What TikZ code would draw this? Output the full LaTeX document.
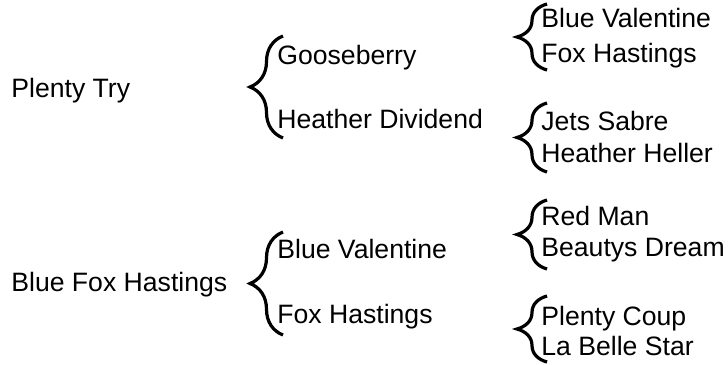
\documentclass[tikz,border=0pt]{standalone}
\usepackage{fontspec}
\setmainfont{Liberation Sans}
\usetikzlibrary{decorations.pathreplacing}
\tikzset{
  horse/.style={anchor=base west, inner sep=0pt, font=\fontsize{13.3}{15}\selectfont},
  pbrace/.style={draw, line width=1.6pt, decorate, decoration={brace, amplitude=#1}},
}
\begin{document}
\begin{tikzpicture}[x=0.5pt, y=-0.5pt]
  \useasboundingbox (0,0) rectangle (728,364);
  \node[horse] (pt)  at (11,97)  {Plenty Try};
  \node[horse] (bfh) at (11,291) {Blue Fox Hastings};
  \node[horse] (goo) at (277,64)  {Gooseberry};
  \node[horse] (hd)  at (277,128) {Heather Dividend};
  \node[horse] (bv)  at (277,258) {Blue Valentine};
  \node[horse] (fh)  at (277,323) {Fox Hastings};
  \node[horse] (bv2) at (541,27)  {Blue Valentine};
  \node[horse] (fh2) at (541,62)  {Fox Hastings};
  \node[horse] (js)  at (541,130) {Jets Sabre};
  \node[horse] (hh)  at (541,162) {Heather Heller};
  \node[horse] (rm)  at (541,225) {Red Man};
  \node[horse] (bd)  at (541,256) {Beautys Dream};
  \node[horse] (pc)  at (541,325) {Plenty Coup};
  \node[horse] (lbs) at (541,355) {La Belle Star};
  \coordinate (ptT) at (283,36);  \coordinate (ptB) at (283,138);
  \coordinate (bfhT) at (283,232); \coordinate (bfhB) at (283,335);
  \coordinate (gooT) at (547,4);   \coordinate (gooB) at (547,70);
  \coordinate (hdT) at (547,103);  \coordinate (hdB) at (547,172);
  \coordinate (bvT) at (547,200);  \coordinate (bvB) at (547,269);
  \coordinate (fhT) at (547,296);  \coordinate (fhB) at (547,362);
  \draw[pbrace=16.5pt] (ptB) -- (ptT);
  \draw[pbrace=16.5pt] (bfhB) -- (bfhT);
  \draw[pbrace=15pt] (gooB) -- (gooT);
  \draw[pbrace=15pt] (hdB) -- (hdT);
  \draw[pbrace=15pt] (bvB) -- (bvT);
  \draw[pbrace=15pt] (fhB) -- (fhT);
\end{tikzpicture}
\end{document}
